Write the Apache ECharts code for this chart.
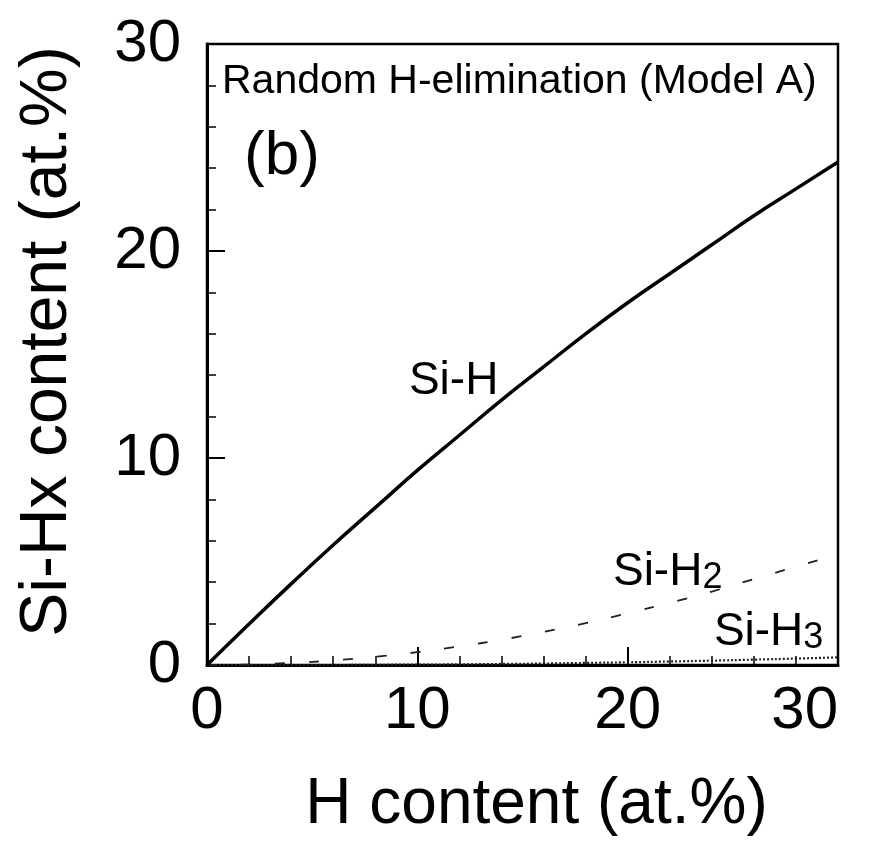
<!DOCTYPE html>
<html>
<head>
<meta charset="utf-8">
<script src="https://cdn.jsdelivr.net/npm/echarts@6/dist/echarts.min.js"></script>
<style>
  html, body { margin: 0; padding: 0; background: #fff; }
  #chart { width: 881px; height: 842px; }
</style>
</head>
<body>
<div id="chart"></div>
<script>
// H content (at.%) sampled every 2 at.%
const hContent = [0, 2, 4, 6, 8, 10, 12, 14, 16, 18, 20, 22, 24, 26, 28, 30];
// Si-Hx bond contents (at.%) for the random H-elimination model
const siH  = [0, 1.98, 3.92, 5.8, 7.6, 9.4, 11.1, 12.8, 14.4, 16.0, 17.5, 18.9, 20.3, 21.7, 23.0, 24.3];
const siH2 = [0, 0.02, 0.1, 0.22, 0.4, 0.62, 0.9, 1.22, 1.6, 2.02, 2.5, 3.0, 3.55, 4.15, 4.75, 5.35];
const siH3 = [0, 0, 0, 0, 0.01, 0.02, 0.03, 0.05, 0.07, 0.1, 0.13, 0.17, 0.21, 0.26, 0.31, 0.37];

const FONT = '"Liberation Sans", Arial, Helvetica, sans-serif';

function pairs(xs, ys) { return xs.map((x, i) => [x, ys[i]]); }

const chart = echarts.init(document.getElementById('chart'), null, { renderer: 'canvas' });

const axisCommon = {
  min: 0, max: 30, interval: 10,
  axisLine: { show: true, lineStyle: { color: '#000', width: 3 } },
  axisTick: { show: true, inside: true, length: 18, lineStyle: { color: '#000', width: 2 } },
  minorTick: { show: true, splitNumber: 5, length: 9, lineStyle: { color: '#000', width: 1.5 } },
  splitLine: { show: false },
  nameLocation: 'middle'
};

chart.setOption({
  animation: false,
  backgroundColor: '#fff',
  grid: {
    left: 207, top: 44, right: 43, bottom: 169,
    show: true, borderColor: '#000', borderWidth: 2.5, backgroundColor: 'transparent'
  },
  xAxis: Object.assign({}, axisCommon, {
    type: 'value',
    name: 'H content (at.%)',
    nameGap: 108,
    nameTextStyle: { color: '#000', fontSize: 64, fontFamily: FONT, padding: [0, 0, 0, 28] },
    axisLabel: { color: '#000', fontSize: 60, fontFamily: FONT, margin: 16, alignMaxLabel: 'right' }
  }),
  yAxis: Object.assign({}, axisCommon, {
    type: 'value',
    name: 'Si-Hx content (at.%)',
    nameGap: 126,
    nameTextStyle: { color: '#000', fontSize: 66, fontFamily: FONT, padding: [0, 0, 0, 26] },
    axisLabel: { color: '#000', fontSize: 60, fontFamily: FONT, margin: 26 }
  }),
  series: [
    {
      name: 'Si-H', type: 'line', smooth: true, showSymbol: false,
      data: pairs(hContent, siH),
      lineStyle: { color: '#000', width: 3.5 }, z: 5
    },
    {
      name: 'Si-H2', type: 'line', smooth: true, showSymbol: false,
      data: pairs(hContent, siH2),
      lineStyle: { color: '#222', width: 1.8, type: [10, 24] }, z: 4
    },
    {
      name: 'Si-H3', type: 'line', smooth: true, showSymbol: false,
      data: pairs(hContent, siH3),
      lineStyle: { color: '#222', width: 2.2, type: [2, 2] }, z: 4
    }
  ]
});

// Annotation texts anchored in data coordinates
function px(x, y) { return chart.convertToPixel({ gridIndex: 0 }, [x, y]); }
const pSiH = px(9.6, 13.7);
const pSiH2 = px(19.3, 4.5);
const pSiH3 = px(24.1, 1.6);

const subRich = { s: { fontSize: 36, fontFamily: FONT, fill: '#000', verticalAlign: 'bottom', padding: [12, 0, 0, 0] } };

chart.setOption({
  graphic: [
    {
      type: 'text', left: 222, top: 61,
      style: { text: 'Random H-elimination (Model A)', fill: '#000', font: '41px ' + FONT }
    },
    {
      type: 'text', left: 244, top: 126,
      style: { text: '(b)', fill: '#000', font: '62px ' + FONT }
    },
    {
      type: 'text', x: pSiH[0], y: pSiH[1],
      style: { text: 'Si-H', fill: '#000', font: '46px ' + FONT, verticalAlign: 'middle' }
    },
    {
      type: 'text', x: pSiH2[0], y: pSiH2[1],
      style: { text: 'Si-H{s|2}', fill: '#000', font: '46px ' + FONT, verticalAlign: 'middle', rich: subRich }
    },
    {
      type: 'text', x: pSiH3[0], y: pSiH3[1],
      style: { text: 'Si-H{s|3}', fill: '#000', font: '46px ' + FONT, verticalAlign: 'middle', rich: subRich }
    }
  ]
});
</script>
</body>
</html>
